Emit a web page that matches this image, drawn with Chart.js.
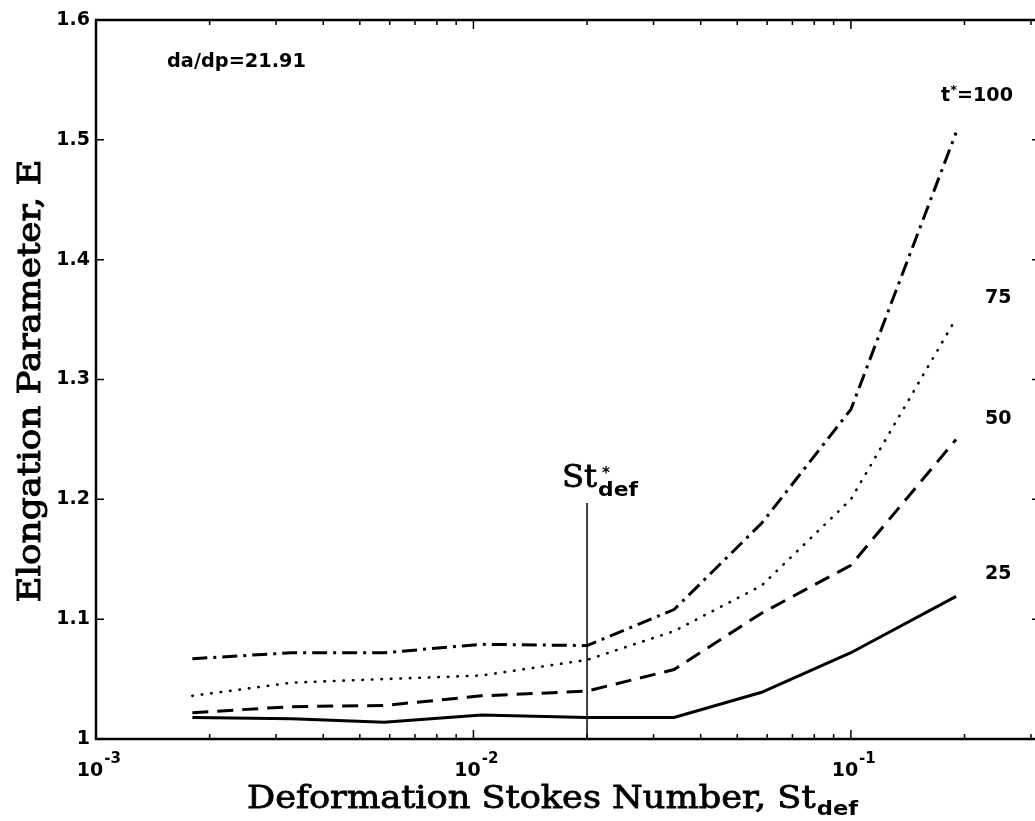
<!DOCTYPE html>
<html>
<head>
<meta charset="utf-8">
<script src="https://cdn.jsdelivr.net/npm/chart.js@4.4.0/dist/chart.umd.min.js"></script>
<style>
  html, body { margin: 0; padding: 0; background: #fff; overflow: hidden; }
</style>
</head>
<body>
<canvas id="chart" width="1050" height="821"></canvas>
<script>
// deformation Stokes number (x, log scale)
const stDef = [0.0018, 0.0033, 0.0058, 0.0105, 0.02, 0.034, 0.058, 0.1, 0.19];
// elongation parameter E for each t*
const e100 = [1.067, 1.072, 1.072, 1.079, 1.078, 1.108, 1.18, 1.275, 1.506];
const e75  = [1.036, 1.047, 1.050, 1.053, 1.066, 1.090, 1.128, 1.200, 1.351];
const e50  = [1.022, 1.027, 1.028, 1.036, 1.040, 1.058, 1.105, 1.145, 1.250];
const e25  = [1.018, 1.017, 1.014, 1.020, 1.018, 1.018, 1.039, 1.072, 1.119];
// critical St marker
const stCrit = [0.02, 0.02];
const stCritE = [1.0, 1.197];

const yTicks = [1, 1.1, 1.2, 1.3, 1.4, 1.5, 1.6];
const xTicks = [0.001, 0.01, 0.1];
const xTickExp = ['-3', '-2', '-1'];
const curveLabels = ['100', '75', '50', '25'];

const SANS = '"DejaVu Sans", sans-serif';
const SERIF = '"DejaVu Serif", serif';

function pts(xs, ys) {
  return xs.map((v, i) => ({ x: v, y: ys[i] }));
}

// draw a run of text pieces stretched to a given width
function fitText(ctx, parts, x, y, width, align) {
  let total = 0;
  parts.forEach(p => {
    ctx.font = p.font;
    p.w = ctx.measureText(p.t).width;
    total += p.w;
  });
  const sx = width ? width / total : 1;
  ctx.save();
  ctx.translate(x, y);
  ctx.scale(sx, 1);
  let cx = align === 'center' ? -total / 2 : 0;
  parts.forEach(p => {
    ctx.font = p.font;
    ctx.fillText(p.t, cx + (p.dx || 0), p.dy || 0);
    if (p.heavy) {
      ctx.lineWidth = p.heavy;
      ctx.strokeText(p.t, cx + (p.dx || 0), p.dy || 0);
    }
    cx += p.w;
  });
  ctx.restore();
}

const decor = {
  id: 'decor',
  afterDatasetsDraw(chart) {
    const { ctx, chartArea: a, scales: { x, y } } = chart;
    ctx.save();
    ctx.strokeStyle = '#000';
    ctx.fillStyle = '#000';

    // frame
    ctx.lineWidth = 2.5;
    ctx.strokeRect(a.left, a.top, a.right - a.left, a.bottom - a.top);

    // inward ticks
    ctx.lineWidth = 1.5;
    ctx.beginPath();
    yTicks.forEach(v => {
      const py = y.getPixelForValue(v);
      ctx.moveTo(a.left, py); ctx.lineTo(a.left + 8, py);
      ctx.moveTo(a.right, py); ctx.lineTo(a.right - 8, py);
    });
    xTicks.forEach(d => {
      for (let m = 1; m <= 9; m++) {
        const v = d * m;
        if (v > x.max) break;
        const px = x.getPixelForValue(v);
        const len = m === 1 ? 9 : 5;
        ctx.moveTo(px, a.bottom); ctx.lineTo(px, a.bottom - len);
        ctx.moveTo(px, a.top); ctx.lineTo(px, a.top + len);
      }
    });
    ctx.stroke();

    ctx.textBaseline = 'alphabetic';
    ctx.textAlign = 'left';

    // x tick labels with exponents
    xTicks.forEach((v, i) => {
      const px = x.getPixelForValue(v);
      ctx.font = 'bold 19px ' + SANS;
      const w = ctx.measureText('10').width;
      ctx.fillText('10', px - 6 - w / 2, 776);
      ctx.font = 'bold 15px ' + SANS;
      ctx.fillText(xTickExp[i], px - 6 + w / 2 + 1, 763);
    });

    // axis titles
    fitText(ctx, [
      { t: 'Deformation Stokes Number, St', font: '31px ' + SERIF, heavy: 0.8 },
      { t: 'def', font: 'bold 20px ' + SANS, dy: 7, dx: 1 }
    ], 552, 808, 610, 'center');

    ctx.save();
    ctx.translate(40, 381);
    ctx.rotate(-Math.PI / 2);
    fitText(ctx, [{ t: 'Elongation Parameter, E', font: '31px ' + SERIF, heavy: 1 }], 0, 0, 443, 'center');
    ctx.restore();

    // annotations
    fitText(ctx, [{ t: 'da/dp=21.91', font: 'bold 19px ' + SANS }], 167, 67, 139);
    fitText(ctx, [
      { t: 't', font: 'bold 19px ' + SANS },
      { t: '*', font: 'bold 13px ' + SANS, dy: -7 },
      { t: '=' + curveLabels[0], font: 'bold 19px ' + SANS }
    ], 941, 101, 72);
    ctx.font = 'bold 19px ' + SANS;
    ctx.fillText(curveLabels[1], 985, 303);
    ctx.fillText(curveLabels[2], 985, 424);
    ctx.fillText(curveLabels[3], 985, 579);

    fitText(ctx, [{ t: 'St', font: '32px ' + SERIF, heavy: 0.8 }], 562, 487, 35);
    fitText(ctx, [{ t: '*', font: 'bold 16px ' + SANS }], 602, 478, 8);
    fitText(ctx, [{ t: 'def', font: 'bold 19px ' + SANS }], 598, 496, 40);

    ctx.restore();
  }
};

new Chart(document.getElementById('chart'), {
  type: 'line',
  data: {
    datasets: [
      { label: 't*=100', data: pts(stDef, e100), borderColor: '#000', borderWidth: 3,
        borderDash: [15, 6, 3, 6], pointRadius: 0, tension: 0 },
      { label: '75', data: pts(stDef, e75), borderColor: '#000', borderWidth: 2.6,
        borderDash: [0.5, 9], borderCapStyle: 'round', pointRadius: 0, tension: 0 },
      { label: '50', data: pts(stDef, e50), borderColor: '#000', borderWidth: 3,
        borderDash: [16, 9], pointRadius: 0, tension: 0 },
      { label: '25', data: pts(stDef, e25), borderColor: '#000', borderWidth: 3,
        pointRadius: 0, tension: 0 },
      { label: 'St*def', data: pts(stCrit, stCritE), borderColor: '#000', borderWidth: 1.5,
        pointRadius: 0, tension: 0 }
    ]
  },
  options: {
    responsive: false,
    animation: false,
    layout: { padding: { top: 20, right: 10, left: 0, bottom: 0 } },
    plugins: { legend: { display: false }, tooltip: { enabled: false } },
    scales: {
      x: {
        type: 'logarithmic',
        min: 0.001,
        max: 0.317,
        grid: { display: false, drawTicks: false },
        border: { display: false },
        afterBuildTicks: s => { s.ticks = xTicks.map(v => ({ value: v })); },
        ticks: { display: false },
        afterFit: s => { s.height = 82; }
      },
      y: {
        min: 1,
        max: 1.6,
        grid: { display: false, drawTicks: false },
        border: { display: false },
        afterBuildTicks: s => { s.ticks = yTicks.map(v => ({ value: v })); },
        ticks: {
          color: '#000',
          padding: 6,
          font: { family: SANS, size: 19, weight: 'bold' },
          callback: v => String(+v.toFixed(1))
        },
        afterFit: s => { s.width = 96; }
      }
    }
  },
  plugins: [decor]
});
</script>
</body>
</html>
